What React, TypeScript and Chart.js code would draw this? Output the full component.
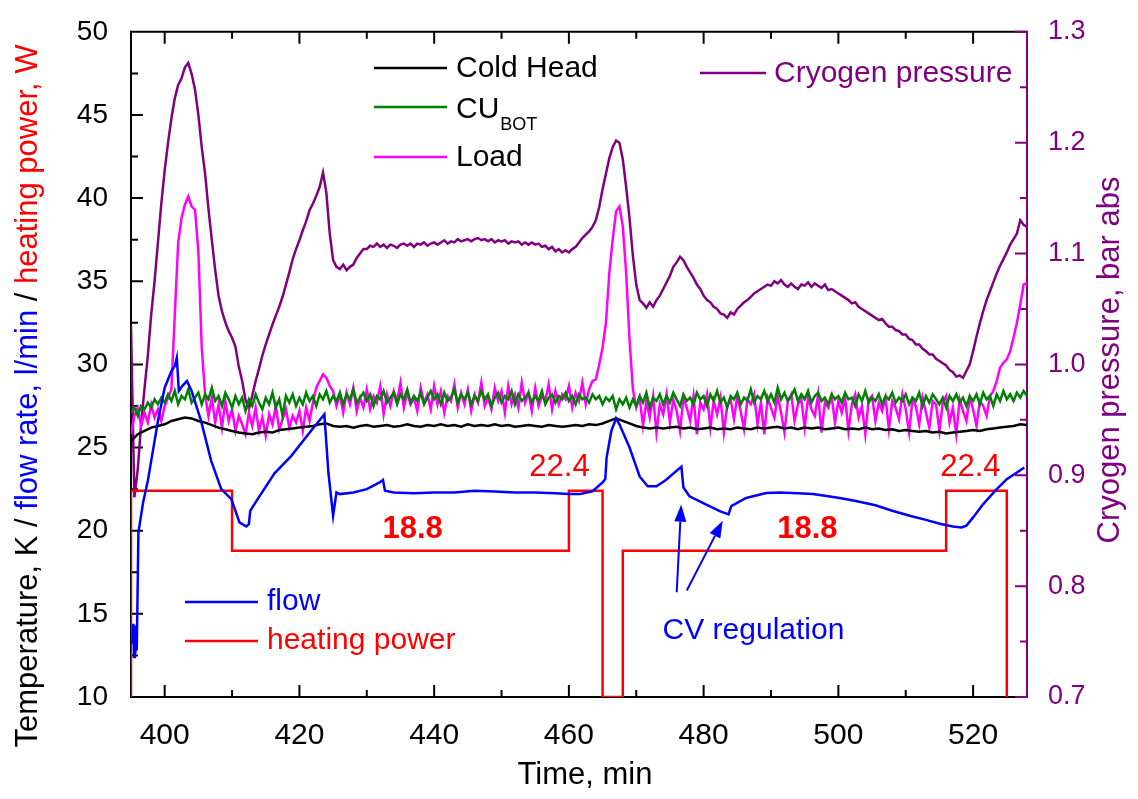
import React, { useEffect, useRef } from 'react';
import { Chart, registerables } from 'chart.js';

Chart.register(...registerables);

// ---------- axis ranges & tick labels ----------
const timeMin = 395;
const timeMax = 528;
const xTickValues = [400, 420, 440, 460, 480, 500, 520];
const xMinorValues = [410, 430, 450, 470, 490, 510];
const leftTickValues = [10, 15, 20, 25, 30, 35, 40, 45, 50];
const leftMinorValues = [12.5, 17.5, 22.5, 27.5, 32.5, 37.5, 42.5, 47.5];
const rightTickValues = [0.7, 0.8, 0.9, 1.0, 1.1, 1.2, 1.3];
const rightMinorValues = [0.75, 0.85, 0.95, 1.05, 1.15, 1.25];

// ---------- sampled series (start time, step in minutes) ----------
const denseStart = 395;
const denseStep = 0.5;
const coldStart = 395;
const coldStep = 1;

// Cold Head, K (every 1 min)
const coldHead = [
  25.4, 25.8, 26.0, 26.2, 26.3, 26.4, 26.6, 26.7, 26.8, 26.75,
  26.6, 26.5, 26.35, 26.2, 26.1, 26.0, 25.9, 25.85, 25.8, 25.9,
  25.95, 25.9, 26.05, 26.1, 26.15, 26.2, 26.25, 26.3, 26.4, 26.45,
  26.3, 26.25, 26.3, 26.2, 26.3, 26.35, 26.25, 26.3, 26.35, 26.25,
  26.3, 26.4, 26.3, 26.25, 26.35, 26.3, 26.4, 26.3, 26.35, 26.25,
  26.4, 26.3, 26.35, 26.3, 26.4, 26.3, 26.35, 26.25, 26.3, 26.35,
  26.3, 26.25, 26.35, 26.3, 26.25, 26.3, 26.35, 26.3, 26.4, 26.35,
  26.45, 26.6, 26.75, 26.6, 26.45, 26.3, 26.2, 26.15, 26.2, 26.15,
  26.2, 26.25, 26.15, 26.2, 26.1, 26.15, 26.2, 26.1, 26.15, 26.1,
  26.2, 26.15, 26.1, 26.2, 26.15, 26.2, 26.25, 26.15, 26.2, 26.1,
  26.2, 26.15, 26.2, 26.1, 26.15, 26.2, 26.1, 26.15, 26.1, 26.2,
  26.1, 26.15, 26.05, 26.1, 26.0, 26.05, 26.0, 25.95, 26.0, 25.9,
  25.95, 25.85, 25.9, 25.95, 26.0, 26.05, 26.0, 26.1, 26.15, 26.2,
  26.25, 26.3, 26.4, 26.35,
];

// CU_BOT, K (every 0.5 min)
const cuBot = [
  27.1, 27.4, 26.9, 27.5, 27.3, 27.7, 27.4, 27.9, 27.6, 28.0,
  27.7, 28.2, 27.8, 28.4, 27.6, 28.1, 27.9, 28.5, 27.7, 28.0,
  28.3, 27.6, 28.2, 27.9, 28.6, 27.8, 28.1, 27.5, 28.3, 27.9,
  27.4, 28.1, 27.6, 28.0, 27.2, 27.9, 27.5, 28.2, 27.7, 27.3,
  28.0, 27.6, 28.3, 27.4, 27.9, 26.9, 28.1, 27.7, 28.2, 27.5,
  28.0, 27.6, 28.3, 27.8, 28.1, 27.5, 28.2, 27.9, 28.4, 27.7,
  28.1, 27.8, 28.3, 27.6, 28.2, 27.9, 28.5, 27.7, 28.0, 28.3,
  27.8, 28.2, 27.5, 28.1, 27.9, 28.4, 27.7, 28.0, 28.3, 27.6,
  28.2, 27.9, 28.5, 27.7, 28.1, 27.8, 28.3, 27.6, 28.0, 28.4,
  27.9, 28.2, 27.6, 28.3, 27.8, 28.0, 28.5, 27.7, 28.2, 27.9,
  28.3, 27.6, 28.1, 27.8, 28.4, 27.9, 28.2, 27.5, 28.0, 28.3,
  27.7, 28.1, 27.9, 28.4, 27.6, 28.2, 27.8, 28.0, 28.3, 27.7,
  28.1, 27.8, 28.4, 27.6, 28.0, 28.2, 27.7, 28.1, 27.9, 28.3,
  27.8, 28.1, 27.6, 28.2, 27.9, 28.0, 27.7, 28.2, 27.9, 28.1,
  27.6, 28.0, 27.8, 28.1, 27.3, 27.9, 27.6, 28.0, 27.4, 27.9,
  27.5, 28.1, 27.7, 28.3, 27.4, 28.0, 27.8, 28.2, 27.6, 28.1,
  27.7, 28.3, 27.9, 27.5, 28.2, 27.8, 28.0, 27.6, 28.3, 27.9,
  28.1, 27.5, 28.2, 27.8, 28.4, 27.7, 28.0, 27.4, 28.1, 27.9,
  28.3, 27.6, 28.0, 27.8, 28.5, 27.7, 28.1, 27.9, 28.4, 27.8,
  28.2, 27.7, 28.6, 27.9, 28.3, 27.8, 28.1, 28.5, 27.8, 28.2,
  27.9, 28.4, 27.7, 28.1, 28.3, 27.8, 28.0, 27.6, 28.2, 27.9,
  28.1, 27.7, 28.3, 27.9, 28.0, 27.5, 28.2, 27.8, 28.4, 27.7,
  28.0, 27.8, 28.2, 27.6, 28.1, 27.9, 28.3, 27.7, 28.0, 27.8,
  28.2, 27.6, 28.0, 27.8, 28.3, 27.5, 28.1, 27.7, 28.2, 27.9,
  27.6, 28.0, 27.4, 28.1, 27.8, 28.2, 27.7, 28.0, 27.5, 28.1,
  27.8, 28.2, 27.6, 28.3, 27.9, 28.1, 27.5, 28.2, 27.8, 28.4,
  27.9, 28.2, 27.8, 28.3, 28.0, 28.4, 28.1,
];

// Load, K (every 0.5 min)
const load = [
  25.8, 26.9, 27.4, 26.3, 27.1, 26.5, 27.6, 26.8, 27.3, 26.6,
  27.5, 28.0, 28.5, 33.0, 37.3, 38.8, 39.6, 40.1, 39.5, 39.3,
  36.8, 31.0, 28.2, 26.9, 28.0, 26.5, 27.6, 26.2, 27.8, 26.6,
  27.3, 26.0, 26.9, 26.4, 25.8, 27.1, 26.3, 27.4, 26.0, 26.8,
  25.7, 27.0, 26.4, 27.5, 26.1, 26.7, 27.3, 26.2, 26.9, 26.5,
  27.2, 26.0, 27.4, 26.6, 27.7, 28.6, 29.0, 29.4, 29.2, 28.7,
  28.4, 27.5, 28.2, 27.1, 28.3, 27.6, 28.6, 27.2, 28.0, 27.4,
  28.5, 27.3, 28.1, 27.7, 28.7, 27.0, 28.2, 27.5, 28.4, 27.8,
  28.9, 27.4, 28.3, 27.6, 28.0, 27.2, 28.6, 27.7, 28.2, 27.3,
  28.7, 27.6, 28.4, 27.1, 28.1, 27.8, 28.8, 27.4, 28.3, 27.6,
  28.5, 27.2, 28.2, 27.7, 28.9, 27.5, 28.0, 27.3, 28.6, 27.8,
  28.4, 27.1, 28.7, 27.6, 28.2, 27.4, 28.9, 27.7, 28.3, 27.2,
  28.6, 27.5, 28.1, 27.8, 28.8, 27.3, 28.4, 27.6, 28.2, 27.9,
  28.7, 27.4, 28.3, 27.8, 28.9, 27.6, 28.5, 29.0, 29.1, 30.0,
  31.0, 32.5, 35.5, 37.5, 39.2, 39.5, 38.3, 35.5, 31.5, 28.5,
  27.4, 28.0, 26.3, 27.8, 26.8, 28.1, 25.9, 27.6, 27.0, 28.2,
  26.5, 27.9, 27.2, 26.0, 28.0, 27.4, 26.6, 28.1, 25.8, 27.7,
  27.3, 28.2, 26.2, 27.8, 27.0, 28.0, 25.9, 27.5, 27.9, 26.7,
  28.1, 27.2, 26.1, 27.9, 27.6, 28.2, 26.4, 27.7, 25.8, 28.0,
  27.4, 26.8, 28.1, 27.1, 25.9, 27.8, 28.2, 26.6, 27.6, 27.9,
  26.2, 28.0, 27.3, 26.9, 28.2, 25.9, 27.7, 27.4, 28.1, 26.5,
  27.8, 27.1, 28.0, 26.0, 27.6, 28.2, 26.8, 27.5, 25.8, 27.9,
  28.1, 26.6, 27.7, 27.2, 28.0, 26.1, 27.8, 27.4, 26.7, 28.2,
  27.3, 25.9, 27.9, 27.5, 26.4, 28.0, 27.1, 26.2, 27.8, 27.6,
  26.0, 27.7, 28.1, 26.5, 27.4, 25.8, 27.9, 27.2, 26.6, 28.0,
  27.3, 26.3, 27.8, 27.5, 26.9, 28.1, 28.4, 29.0, 29.8, 30.1,
  30.3, 30.8, 31.6, 32.5, 33.6, 34.8, 34.9,
];

// Cryogen pressure, bar abs (every 0.5 min)
const cryoPressure = [
  1.035, 0.880, 0.905, 0.946, 0.978, 1.008, 1.045, 1.075, 1.110, 1.145,
  1.175, 1.200, 1.222, 1.240, 1.252, 1.258, 1.268, 1.272, 1.262, 1.248,
  1.225, 1.196, 1.172, 1.140, 1.112, 1.085, 1.062, 1.048, 1.038, 1.030,
  1.024, 1.016, 0.998, 0.985, 0.968, 0.960, 0.972, 0.985, 0.996, 1.008,
  1.018, 1.027, 1.036, 1.044, 1.052, 1.061, 1.072, 1.083, 1.095, 1.104,
  1.112, 1.121, 1.129, 1.139, 1.145, 1.152, 1.160, 1.173, 1.155, 1.118,
  1.094, 1.088, 1.086, 1.090, 1.085, 1.088, 1.090, 1.096, 1.100, 1.104,
  1.104, 1.107, 1.106, 1.109, 1.106, 1.108, 1.105, 1.108, 1.107, 1.105,
  1.108, 1.109, 1.107, 1.109, 1.106, 1.109, 1.108, 1.110, 1.107, 1.109,
  1.110, 1.108, 1.110, 1.112, 1.109, 1.111, 1.110, 1.113, 1.111, 1.112,
  1.113, 1.111, 1.113, 1.114, 1.112, 1.113, 1.111, 1.113, 1.110, 1.112,
  1.111, 1.112, 1.109, 1.111, 1.110, 1.111, 1.108, 1.110, 1.108, 1.110,
  1.108, 1.109, 1.106, 1.107, 1.104, 1.106, 1.102, 1.104, 1.101, 1.103,
  1.101, 1.104, 1.106, 1.110, 1.114, 1.117, 1.120, 1.124, 1.130, 1.142,
  1.158, 1.172, 1.186, 1.196, 1.202, 1.200, 1.185, 1.160, 1.132, 1.098,
  1.072, 1.058, 1.055, 1.051, 1.056, 1.052, 1.058, 1.062, 1.068, 1.074,
  1.080, 1.088, 1.092, 1.097, 1.094, 1.088, 1.083, 1.078, 1.072, 1.068,
  1.062, 1.058, 1.056, 1.052, 1.050, 1.046, 1.045, 1.042, 1.047, 1.045,
  1.050, 1.053, 1.056, 1.058, 1.061, 1.064, 1.066, 1.068, 1.070, 1.072,
  1.071, 1.075, 1.073, 1.076, 1.072, 1.070, 1.073, 1.070, 1.068, 1.072,
  1.071, 1.074, 1.070, 1.073, 1.071, 1.069, 1.072, 1.067, 1.068, 1.066,
  1.064, 1.062, 1.060, 1.058, 1.055, 1.056, 1.052, 1.050, 1.048, 1.046,
  1.044, 1.042, 1.040, 1.041, 1.037, 1.034, 1.034, 1.031, 1.030, 1.027,
  1.027, 1.023, 1.022, 1.018, 1.018, 1.014, 1.012, 1.009, 1.009, 1.005,
  1.003, 1.001, 0.999, 0.995, 0.993, 0.989, 0.990, 0.988, 0.994, 1.000,
  1.012, 1.025, 1.037, 1.048, 1.058, 1.066, 1.074, 1.082, 1.089, 1.095,
  1.101, 1.108, 1.113, 1.118, 1.130, 1.126, 1.124,
];

// flow rate, l/min
const flowTime = [
  395.2, 395.35, 395.45, 395.55, 395.65, 395.75, 395.85, 395.95, 396.1, 396.8,
  397.5, 398.0, 399.0, 400.0, 401.0, 401.5, 401.8, 402.1, 402.6, 403.3,
  404.0, 405.4, 406.9, 408.4, 409.9, 411.1, 412.1, 412.5, 412.7, 413.8,
  416.3, 418.8, 421.7, 423.5, 423.7, 424.3, 425.0, 425.5, 426.0, 428.0,
  430.0, 431.9, 432.4, 432.7, 434.0, 437.0, 440.0, 443.0, 446.0, 449.0,
  452.0, 455.0, 458.0, 460.0, 461.6, 463.5, 465.0, 465.4, 465.6, 466.3,
  467.0, 467.5, 469.0, 470.5, 471.7, 473.0, 474.4, 476.7, 477.0, 477.9,
  480.4, 482.4, 483.7, 484.1, 486.3, 489.3, 491.3, 494.0, 496.2, 498.0,
  500.2, 502.6, 505.5, 508.0, 510.6, 513.0, 515.2, 517.0, 518.3, 519.0,
  520.0, 521.5, 523.4, 525.0, 526.5, 527.6,
];
const flowRate = [
  13.2, 14.4, 12.4, 14.3, 12.6, 13.9, 12.8, 15.5, 19.9, 21.7,
  23.0, 24.2, 26.6, 28.6, 29.6, 29.9, 30.4, 28.4, 28.7, 29.0,
  28.4, 26.6, 24.2, 22.5, 21.9, 20.5, 20.25, 20.4, 21.2, 21.9,
  23.45, 24.5, 26.0, 26.9, 27.0, 23.5, 20.9, 22.3, 22.2, 22.3,
  22.5, 22.9, 23.05, 22.4, 22.3, 22.25, 22.3, 22.3, 22.4, 22.35,
  22.3, 22.3, 22.25, 22.2, 22.2, 22.37, 22.9, 23.1, 24.4, 26.0,
  26.75, 26.4, 25.0, 23.26, 22.67, 22.67, 23.05, 23.85, 22.6, 22.07,
  21.57, 21.18, 20.98, 21.48, 21.97, 22.27, 22.3, 22.25, 22.2, 22.1,
  21.97, 21.78, 21.53, 21.2, 20.9, 20.65, 20.4, 20.25, 20.2, 20.3,
  20.8, 21.6, 22.45, 23.1, 23.5, 23.8,
];

// heating power, W (step corners; the off state sits on the axis floor)
const heatTime = [395, 395, 410, 410, 460, 460, 465, 465, 468, 468, 516, 516, 525, 525];
const heatPower = [10, 22.4, 22.4, 18.8, 18.8, 22.4, 22.4, 10, 10, 18.8, 18.8, 22.4, 22.4, 10];

// annotations (data coordinates)
const powerLabels = ['22.4', '18.8', '22.4', '18.8'];
const powerLabelTime = [458.6, 436.8, 519.6, 495.4];
const powerLabelValue = [23.8, 20.07, 23.8, 20.07];
const powerLabelBold = [false, true, false, true];
const cvLabel = 'CV regulation';
const cvLabelTime = 487.4;
const cvLabelValue = 14.0;
const arrowTailTime = [476.0, 477.5];
const arrowTailValue = [16.3, 16.4];
const arrowTipTime = [476.67, 482.84];
const arrowTipValue = [21.57, 20.6];

// ---------- styling ----------
const BLACK = '#000000';
const GREEN = '#008000';
const MAGENTA = '#FF00FF';
const PURPLE = '#800080';
const BLUE = '#0000FF';
const RED = '#FF0000';
const FONT = '"Liberation Sans", Arial, Helvetica, sans-serif';
const LINE_W = 2.5;

const seq = (vals: number[], start: number, step: number) =>
  vals.map((v, i) => ({ x: start + i * step, y: v }));
const pairs = (xs: number[], ys: number[]) => xs.map((x, i) => ({ x, y: ys[i] }));

const framePlugin = {
  id: 'frame',
  beforeDatasetsDraw(chart: any) {
    const { ctx, chartArea: a, scales } = chart;
    const sx = scales.x, sy = scales.y, sr = scales.y1;
    const MAJ = 12, MIN = 7;
    ctx.save();
    ctx.lineWidth = 2;
    ctx.lineCap = 'butt';
    ctx.strokeStyle = BLACK;
    ctx.beginPath();
    ctx.moveTo(a.left - 1, a.top); ctx.lineTo(a.right, a.top);
    ctx.moveTo(a.left - 1, a.bottom); ctx.lineTo(a.right, a.bottom);
    ctx.moveTo(a.left, a.top - 1); ctx.lineTo(a.left, a.bottom + 1);
    for (const v of xTickValues) {
      const p = sx.getPixelForValue(v);
      ctx.moveTo(p, a.bottom); ctx.lineTo(p, a.bottom - MAJ);
      ctx.moveTo(p, a.top); ctx.lineTo(p, a.top + MAJ);
    }
    for (const v of xMinorValues) {
      const p = sx.getPixelForValue(v);
      ctx.moveTo(p, a.bottom); ctx.lineTo(p, a.bottom - MIN);
      ctx.moveTo(p, a.top); ctx.lineTo(p, a.top + MIN);
    }
    for (const v of leftTickValues) {
      const p = sy.getPixelForValue(v);
      ctx.moveTo(a.left, p); ctx.lineTo(a.left + MAJ, p);
    }
    for (const v of leftMinorValues) {
      const p = sy.getPixelForValue(v);
      ctx.moveTo(a.left, p); ctx.lineTo(a.left + MIN, p);
    }
    ctx.stroke();
    ctx.strokeStyle = PURPLE;
    ctx.beginPath();
    ctx.moveTo(a.right, a.top - 1); ctx.lineTo(a.right, a.bottom + 1);
    for (const v of rightTickValues) {
      const p = sr.getPixelForValue(v);
      ctx.moveTo(a.right, p); ctx.lineTo(a.right - MAJ, p);
    }
    for (const v of rightMinorValues) {
      const p = sr.getPixelForValue(v);
      ctx.moveTo(a.right, p); ctx.lineTo(a.right - MIN, p);
    }
    ctx.stroke();
    ctx.restore();
  },
  afterDraw(chart: any) {
    const { ctx, chartArea: a, scales } = chart;
    const sx = scales.x, sy = scales.y;
    ctx.save();

    // axis titles
    const titleFont = `31px ${FONT}`;
    ctx.font = titleFont;
    ctx.textBaseline = 'middle';
    const segs: [string, string][] = [
      ['Temperature, K / ', BLACK],
      ['flow rate, l/min', BLUE],
      [' / ', BLACK],
      ['heating power, W', RED],
    ];
    const total = segs.reduce((s, [t]) => s + ctx.measureText(t).width, 0);
    ctx.save();
    ctx.translate(28, 396);
    ctx.rotate(-Math.PI / 2);
    let off = -total / 2;
    ctx.textAlign = 'left';
    for (const [t, c] of segs) {
      ctx.fillStyle = c;
      ctx.fillText(t, off, 0);
      off += ctx.measureText(t).width;
    }
    ctx.restore();

    ctx.save();
    ctx.translate(1110, 360);
    ctx.rotate(-Math.PI / 2);
    ctx.textAlign = 'center';
    ctx.fillStyle = PURPLE;
    ctx.fillText('Cryogen pressure, bar abs', 0, 0);
    ctx.restore();

    ctx.textAlign = 'center';
    ctx.fillStyle = BLACK;
    ctx.fillText('Time, min', (a.left + a.right) / 2 + 6, 775);

    // legends
    const legFont = `30px ${FONT}`;
    const legLine = (x0: number, x1: number, y: number, c: string) => {
      ctx.strokeStyle = c;
      ctx.lineWidth = LINE_W;
      ctx.beginPath();
      ctx.moveTo(x0, y); ctx.lineTo(x1, y);
      ctx.stroke();
    };
    ctx.font = legFont;
    ctx.textAlign = 'left';
    ctx.textBaseline = 'middle';
    legLine(374, 447, 68, BLACK);
    ctx.fillStyle = BLACK;
    ctx.fillText('Cold Head', 456, 69);
    legLine(374, 447, 107, GREEN);
    ctx.textBaseline = 'alphabetic';
    ctx.fillText('CU', 456, 118);
    const cuW = ctx.measureText('CU').width;
    ctx.font = `18px ${FONT}`;
    ctx.fillText('BOT', 456 + cuW + 1, 130);
    ctx.font = legFont;
    ctx.textBaseline = 'middle';
    legLine(374, 447, 157, MAGENTA);
    ctx.fillText('Load', 456, 158);

    legLine(700, 766, 73, PURPLE);
    ctx.fillStyle = PURPLE;
    ctx.fillText('Cryogen pressure', 774, 74);

    legLine(185, 258, 602, BLUE);
    ctx.fillStyle = BLUE;
    ctx.fillText('flow', 267, 602);
    legLine(185, 258, 641, RED);
    ctx.fillStyle = RED;
    ctx.fillText('heating power', 267, 641);

    // power annotations
    ctx.textAlign = 'center';
    for (let i = 0; i < powerLabels.length; i++) {
      ctx.font = `${powerLabelBold[i] ? 'bold ' : ''}31px ${FONT}`;
      ctx.fillStyle = RED;
      ctx.fillText(powerLabels[i], sx.getPixelForValue(powerLabelTime[i]), sy.getPixelForValue(powerLabelValue[i]));
    }

    // CV regulation annotation with arrows
    ctx.font = legFont;
    ctx.fillStyle = BLUE;
    ctx.fillText(cvLabel, sx.getPixelForValue(cvLabelTime), sy.getPixelForValue(cvLabelValue));
    for (let i = 0; i < arrowTailTime.length; i++) {
      const x0 = sx.getPixelForValue(arrowTailTime[i]);
      const y0 = sy.getPixelForValue(arrowTailValue[i]);
      const x1 = sx.getPixelForValue(arrowTipTime[i]);
      const y1 = sy.getPixelForValue(arrowTipValue[i]);
      const ang = Math.atan2(y1 - y0, x1 - x0);
      const hl = 17, hw = 6;
      const bx = x1 - hl * Math.cos(ang), by = y1 - hl * Math.sin(ang);
      ctx.strokeStyle = BLUE;
      ctx.lineWidth = 2;
      ctx.beginPath();
      ctx.moveTo(x0, y0); ctx.lineTo(bx, by);
      ctx.stroke();
      ctx.beginPath();
      ctx.moveTo(x1, y1);
      ctx.lineTo(bx + hw * Math.sin(ang), by - hw * Math.cos(ang));
      ctx.lineTo(bx - hw * Math.sin(ang), by + hw * Math.cos(ang));
      ctx.closePath();
      ctx.fill();
    }
    ctx.restore();
  },
};

const lineDs = (label: string, data: any[], color: string, axis: string) => ({
  label,
  data,
  borderColor: color,
  backgroundColor: color,
  borderWidth: LINE_W,
  pointRadius: 0,
  tension: 0,
  fill: false,
  yAxisID: axis,
});

export default function App() {
  const ref = useRef<HTMLCanvasElement | null>(null);
  useEffect(() => {
    if (!ref.current) return;
    const chart = new Chart(ref.current, {
      type: 'line',
      data: {
        datasets: [
          lineDs('flow', pairs(flowTime, flowRate), BLUE, 'y'),
          lineDs('heating power', pairs(heatTime, heatPower), RED, 'y'),
          lineDs('Cold Head', seq(coldHead, coldStart, coldStep), BLACK, 'y'),
          lineDs('CU_BOT', seq(cuBot, denseStart, denseStep), GREEN, 'y'),
          lineDs('Load', seq(load, denseStart, denseStep), MAGENTA, 'y'),
          lineDs('Cryogen pressure', seq(cryoPressure, denseStart, denseStep), PURPLE, 'y1'),
        ],
      },
      options: {
        responsive: false,
        animation: false,
        devicePixelRatio: 1,
        events: [],
        layout: { padding: { top: 22, left: 0, right: 0, bottom: 0 } },
        plugins: { legend: { display: false }, tooltip: { enabled: false }, title: { display: false } },
        scales: {
          x: {
            type: 'linear',
            min: timeMin,
            max: timeMax,
            grid: { display: false },
            border: { display: false },
            afterBuildTicks: (s: any) => { s.ticks = xTickValues.map((v) => ({ value: v })); },
            afterFit: (s: any) => { s.height = 102; },
            ticks: {
              color: BLACK,
              padding: 13,
              maxRotation: 0,
              autoSkip: false,
              font: { family: FONT, size: 30 },
              callback: (v: any) => String(v),
            },
          },
          y: {
            type: 'linear',
            position: 'left',
            min: 10,
            max: 50,
            grid: { display: false },
            border: { display: false },
            afterBuildTicks: (s: any) => { s.ticks = leftTickValues.map((v) => ({ value: v })); },
            afterFit: (s: any) => { s.width = 131; },
            ticks: {
              color: BLACK,
              padding: 15,
              autoSkip: false,
              font: { family: FONT, size: 28 },
              callback: (v: any) => String(v),
            },
          },
          y1: {
            type: 'linear',
            position: 'right',
            min: 0.7,
            max: 1.3,
            grid: { display: false },
            border: { display: false },
            afterBuildTicks: (s: any) => { s.ticks = rightTickValues.map((v) => ({ value: v })); },
            afterFit: (s: any) => { s.width = 111; },
            ticks: {
              color: PURPLE,
              padding: 13,
              autoSkip: false,
              font: { family: FONT, size: 27 },
              callback: (v: any) => Number(v).toFixed(1),
            },
          },
        },
      },
      plugins: [framePlugin],
    } as any);
    return () => chart.destroy();
  }, []);
  return (
    <div style={{ position: 'absolute', left: 0, top: 0, width: 1138, height: 799, background: '#ffffff' }}>
      <canvas ref={ref} width={1138} height={799} style={{ display: 'block', width: 1138, height: 799 }} />
    </div>
  );
}
